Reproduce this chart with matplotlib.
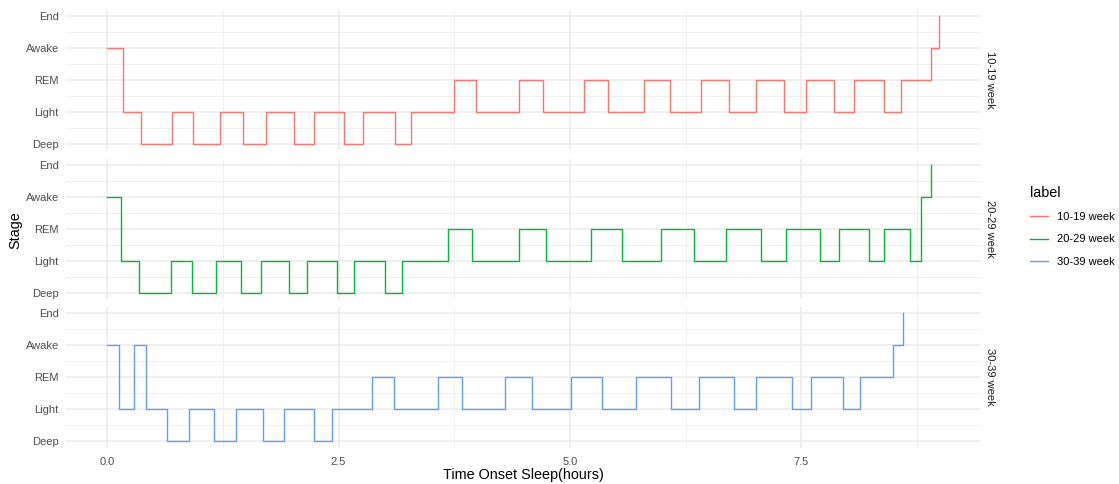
import matplotlib
matplotlib.use("Agg")
import matplotlib.pyplot as plt
from matplotlib.lines import Line2D

plt.rcParams['font.family'] = ['Liberation Sans', 'DejaVu Sans']

stage_levels = ["Deep", "Light", "REM", "Awake", "End"]
x_ticks = [0.0, 2.5, 5.0, 7.5]
x_tick_labels = ["0.0", "2.5", "5.0", "7.5"]
group_labels = ["10-19 week", "20-29 week", "30-39 week"]
group_colors = ["#F8766D", "#00BA38", "#619CFF"]

time_10_19 = [0, 0.173, 0.364, 0.695, 0.922, 1.214, 1.470, 1.718, 2.014, 2.237, 2.561,
              2.759, 3.109, 3.285, 3.743, 3.988, 4.452, 4.705, 5.152, 5.415, 5.804,
              6.085, 6.420, 6.715, 7.007, 7.310, 7.555, 7.857, 8.073, 8.398, 8.581,
              8.898, 8.988]
stage_10_19 = ["Awake", "Light", "Deep", "Light", "Deep", "Light", "Deep", "Light", "Deep",
               "Light", "Deep", "Light", "Deep", "Light", "REM", "Light", "REM", "Light",
               "REM", "Light", "REM", "Light", "REM", "Light", "REM", "Light", "REM",
               "Light", "REM", "Light", "REM", "Awake", "End"]

time_20_29 = [0, 0.151, 0.339, 0.688, 0.911, 1.178, 1.441, 1.664, 1.960, 2.158, 2.478,
              2.662, 3.004, 3.188, 3.685, 3.937, 4.452, 4.745, 5.224, 5.559, 5.980,
              6.344, 6.683, 7.061, 7.335, 7.699, 7.908, 8.232, 8.391, 8.679, 8.798,
              8.906]
stage_20_29 = ["Awake", "Light", "Deep", "Light", "Deep", "Light", "Deep", "Light", "Deep",
               "Light", "Deep", "Light", "Deep", "Light", "REM", "Light", "REM", "Light",
               "REM", "Light", "REM", "Light", "REM", "Light", "REM", "Light", "REM",
               "Light", "REM", "Light", "Awake", "End"]

time_30_39 = [0, 0.122, 0.288, 0.418, 0.645, 0.886, 1.149, 1.394, 1.679, 1.906, 2.230,
              2.432, 2.860, 3.102, 3.570, 3.836, 4.294, 4.593, 5.015, 5.350, 5.717,
              6.089, 6.391, 6.773, 7.014, 7.400, 7.602, 7.955, 8.138, 8.491, 8.600]
stage_30_39 = ["Awake", "Light", "Awake", "Light", "Deep", "Light", "Deep", "Light", "Deep",
               "Light", "Deep", "Light", "REM", "Light", "REM", "Light", "REM", "Light",
               "REM", "Light", "REM", "Light", "REM", "Light", "REM", "Light", "REM",
               "Light", "REM", "Awake", "End"]

series = [(time_10_19, stage_10_19), (time_20_29, stage_20_29), (time_30_39, stage_30_39)]

W, H = 1119, 484
fig = plt.figure(figsize=(W / 100, H / 100), dpi=100)

# panel pixel extents (top, bottom)
panels_px = [(9.6, 150.4), (158.6, 299.4), (306.6, 447.8)]
left_px, right_px = 65.7, 980.5

all_t = [t for ts, _ in series for t in ts]
xmin, xmax = min(all_t), max(all_t)
xpad = 0.05 * (xmax - xmin)
ypad = 0.05 * (len(stage_levels) - 1)

grid_col = "#EBEBEB"
axes = []
for i, ((ts, ss), (top, bot)) in enumerate(zip(series, panels_px)):
    ax = fig.add_axes([left_px / W, 1 - bot / H, (right_px - left_px) / W, (bot - top) / H])
    axes.append(ax)
    yv = [stage_levels.index(s) + 1 for s in ss]
    ax.set_xlim(xmin - xpad, xmax + xpad)
    ax.set_ylim(1 - ypad, len(stage_levels) + ypad)
    # grid
    for xm in [1.25, 3.75, 6.25, 8.75]:
        ax.axvline(xm, color=grid_col, lw=0.55, zorder=0)
    for xt in x_ticks:
        ax.axvline(xt, color=grid_col, lw=1.1, zorder=0)
    for k in range(len(stage_levels) - 1):
        ax.axhline(k + 1.5, color=grid_col, lw=0.55, zorder=0)
    for k in range(len(stage_levels)):
        ax.axhline(k + 1, color=grid_col, lw=1.1, zorder=0)
    ax.step(ts, yv, where='post', color=group_colors[i], lw=1.0, zorder=2)
    for sp in ax.spines.values():
        sp.set_visible(False)
    ax.set_yticks(range(1, len(stage_levels) + 1))
    ax.set_yticklabels(stage_levels)
    ax.tick_params(axis='both', length=0, labelsize=8, colors="#4D4D4D", pad=5)
    ax.tick_params(axis='x', pad=6.5)
    ax.set_xticks(x_ticks)
    if i < 2:
        ax.set_xticklabels([])
    else:
        ax.set_xticklabels(x_tick_labels)
    ax.text(1.0 + 9.5 / (right_px - left_px), 0.5, group_labels[i], transform=ax.transAxes,
            rotation=270, va='center', ha='center', fontsize=8, color="#1A1A1A")

fig.text(523 / W, 1 - 475 / H, "Time Onset Sleep(hours)", ha='center', va='center',
         fontsize=10.4, color="black")
fig.text(15 / W, 1 - 230 / H, "Stage", ha='center', va='center', rotation=90,
         fontsize=10.4, color="black")

handles = [Line2D([0], [0], color=c, lw=1.0) for c in group_colors]
leg = fig.legend(handles, group_labels, title="label", loc='upper left',
                 bbox_to_anchor=(1020 / W, 1 - 176 / H), frameon=False,
                 fontsize=8, title_fontsize=10.4, handlelength=1.65,
                 handletextpad=0.8, labelspacing=1.1, alignment='left')

fig.savefig("out.png", dpi=100, facecolor="white")
